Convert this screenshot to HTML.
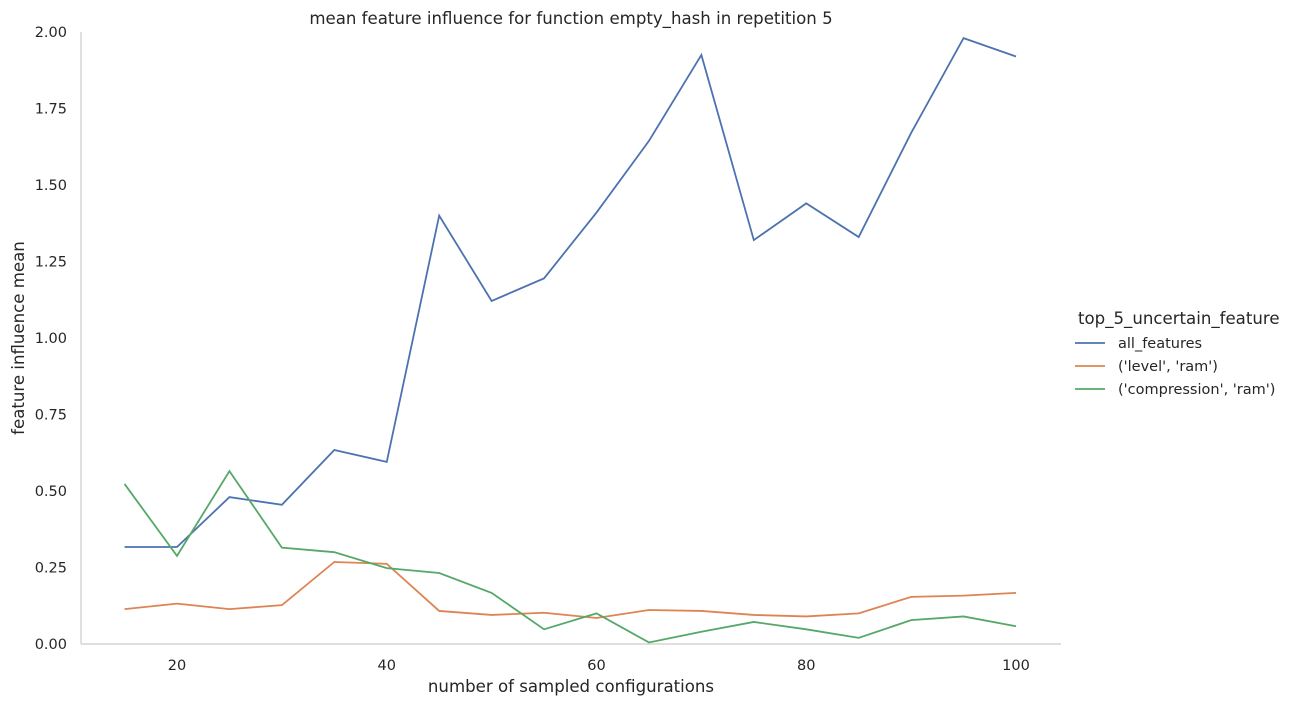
<!DOCTYPE html>
<html><head><meta charset="utf-8"><style>
body{margin:0;background:#fff;font-family:"Liberation Sans","DejaVu Sans",sans-serif;}
svg text{fill:#262626;font-family:"DejaVu Sans","Liberation Sans",sans-serif;}
</style></head><body>
<svg id="chart" width="1297" height="706" xmlns="http://www.w3.org/2000/svg">
<g id="axes"></g><g id="lines"></g><g id="legend"></g>
</svg>
<script>
const xs=[15,20,25,30,35,40,45,50,55,60,65,70,75,80,85,90,95,100];
const allFeatures=[0.317,0.317,0.48,0.455,0.634,0.595,1.40,1.121,1.195,1.41,1.644,1.925,1.32,1.44,1.33,1.67,1.98,1.92];
const levelRam=[0.114,0.132,0.114,0.127,0.268,0.262,0.108,0.095,0.102,0.085,0.111,0.108,0.095,0.09,0.1,0.154,0.158,0.167];
const compressionRam=[0.523,0.288,0.565,0.315,0.30,0.248,0.232,0.167,0.048,0.10,0.005,0.04,0.072,0.048,0.02,0.078,0.09,0.058];
const xTicks=[20,40,60,80,100];
const yTicks=[0,0.25,0.5,0.75,1.0,1.25,1.5,1.75,2.0];
const yTickLabels=["0.00","0.25","0.50","0.75","1.00","1.25","1.50","1.75","2.00"];
const seriesNames=["all_features","('level', 'ram')","('compression', 'ram')"];
const colors=["#4c72b0","#dd8452","#55a868"];
const NS="http://www.w3.org/2000/svg";
const X=v=>177+(v-20)*(839/80);
const Y=v=>644-v*306;
function mk(t,a,p,txt){const e=document.createElementNS(NS,t);for(const k in a)e.setAttribute(k,a[k]);if(txt!==undefined)e.textContent=txt;p.appendChild(e);return e;}
const ax=document.getElementById('axes');
let e=mk('line',{x1:81,y1:644,x2:1061,y2:644,stroke:'#ccc','stroke-width':1.2},ax);

e=mk('line',{x1:81,y1:32,x2:81,y2:644,stroke:'#ccc','stroke-width':1.2},ax);

xTicks.forEach(v=>{const t=mk('text',{x:X(v),y:670,'text-anchor':'middle','font-size':14.5},ax,String(v));
});
yTicks.forEach((v,i)=>{const t=mk('text',{x:67,y:Y(v)+5,'text-anchor':'end','font-size':14.5},ax,yTickLabels[i]);
});
e=mk('text',{x:571,y:692,'text-anchor':'middle','font-size':16.6},ax,'number of sampled configurations');

e=mk('text',{x:24,y:338,'text-anchor':'middle','font-size':16.6,transform:'rotate(-90 24 338)'},ax,'feature influence mean');

e=mk('text',{x:571,y:24,'text-anchor':'middle','font-size':16.6},ax,'mean feature influence for function empty_hash in repetition 5');

const lg=document.getElementById('lines');
[allFeatures,levelRam,compressionRam].forEach((s,i)=>{
const p=mk('polyline',{points:s.map((v,j)=>X(xs[j])+','+Y(v)).join(' '),fill:'none',stroke:colors[i],'stroke-width':1.8},lg);
});
const leg=document.getElementById('legend');
e=mk('text',{x:1078,y:324,'font-size':16.6},leg,'top_5_uncertain_feature');

seriesNames.forEach((n,i)=>{const y=343+i*23;
const l=mk('line',{x1:1075,y1:y,x2:1105,y2:y,stroke:colors[i],'stroke-width':1.8},leg);

const t=mk('text',{x:1118,y:y+5,'font-size':14.5},leg,n);
});
</script>
</body></html>
